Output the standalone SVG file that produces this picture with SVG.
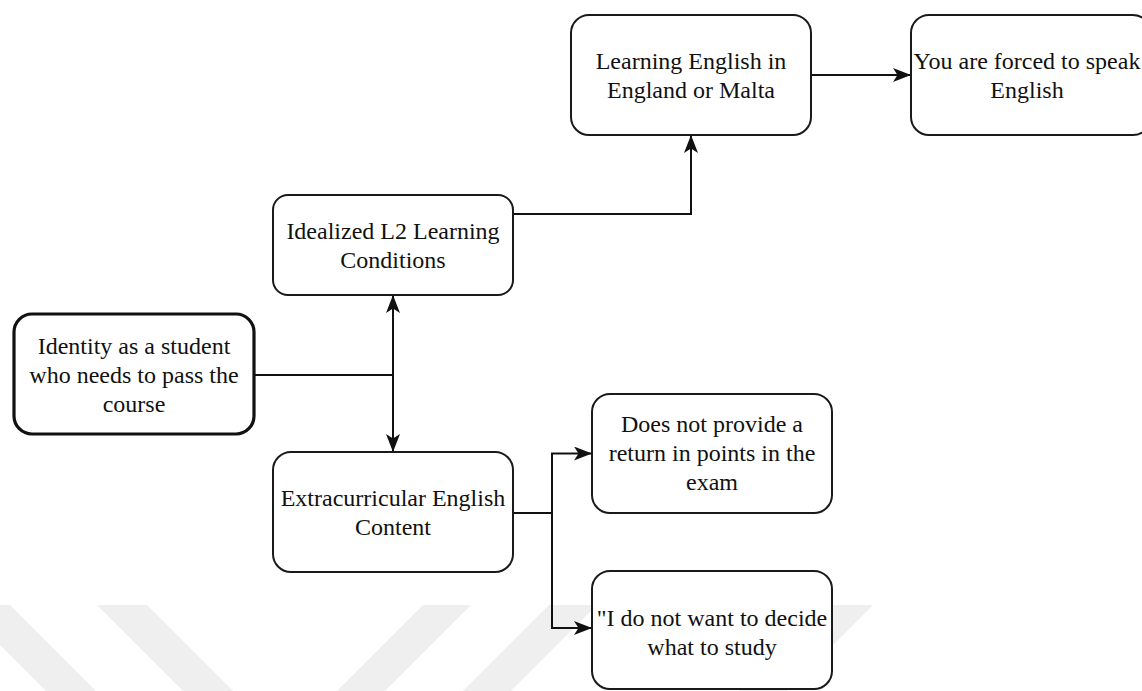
<svg xmlns="http://www.w3.org/2000/svg" width="1142" height="691" viewBox="0 0 1142 691">
  <defs>
    <style>
      .box { fill: #ffffff; stroke: #1a1a1a; stroke-width: 2; }
      .box-strong { fill: #ffffff; stroke: #111111; stroke-width: 3.2; }
      .edge { fill: none; stroke: #111111; stroke-width: 2; }
      .label { font-family: "Liberation Serif", "Times New Roman", serif; font-size: 24px; fill: #111111; text-anchor: middle; }
      .band { fill: #efefef; }
    </style>
    <marker id="arrow" markerUnits="userSpaceOnUse" markerWidth="18" markerHeight="14" viewBox="0 0 18 14" refX="17" refY="7" orient="auto-start-reverse">
      <path d="M0,0 L18,7 L0,14 L4.5,7 Z" fill="#111111"/>
    </marker>
  </defs>

  <rect width="1142" height="691" fill="#ffffff"/>

  <!-- background chevron bands -->
  <g id="bands">
    <polygon class="band" points="-40,605 10,605 96,691 46,691"/>
    <polygon class="band" points="97,605 147,605 233,691 183,691"/>
    <polygon class="band" points="423,605 471,605 385,691 337,691"/>
    <polygon class="band" points="549,605 597,605 511,691 463,691"/>
    <polygon class="band" points="825,605 873,605 787,691 739,691"/>
  </g>

  <!-- connectors -->
  <g id="connectors">
    <path class="edge" d="M787,75 L910,75" marker-end="url(#arrow)"/>
    <path class="edge" d="M513,214 L691,214 L691,136" marker-end="url(#arrow)"/>
    <path class="edge" d="M254,375 L393,375"/>
    <path class="edge" d="M393,296 L393,451" marker-start="url(#arrow)" marker-end="url(#arrow)"/>
    <path class="edge" d="M513,513 L552,513 L552,453.5 L591,453.5" marker-end="url(#arrow)"/>
    <path class="edge" d="M552,513 L552,628 L591,628" marker-end="url(#arrow)"/>
  </g>

  <g id="node-learning">
    <rect class="box" x="571" y="15" width="240" height="120" rx="18"/>
    <text class="label" x="691" y="68.5">Learning English in</text>
    <text class="label" x="691" y="97.5">England or Malta</text>
  </g>

  <g id="node-forced">
    <rect class="box" x="911" y="15" width="240" height="120" rx="18"/>
    <text class="label" x="1027" y="68.5">You are forced to speak</text>
    <text class="label" x="1027" y="97.5">English</text>
  </g>

  <g id="node-idealized">
    <rect class="box" x="273" y="195" width="240" height="100" rx="15"/>
    <text class="label" x="393" y="238.5">Idealized L2 Learning</text>
    <text class="label" x="393" y="267.5">Conditions</text>
  </g>

  <g id="node-identity">
    <rect class="box-strong" x="14" y="314" width="240" height="120" rx="18"/>
    <text class="label" x="134" y="353.5">Identity as a student</text>
    <text class="label" x="134" y="382.5">who needs to pass the</text>
    <text class="label" x="134" y="411.5">course</text>
  </g>

  <g id="node-extracurricular">
    <rect class="box" x="273" y="452" width="240" height="120" rx="18"/>
    <text class="label" x="393" y="505.5">Extracurricular English</text>
    <text class="label" x="393" y="534.5">Content</text>
  </g>

  <g id="node-no-return">
    <rect class="box" x="592" y="394" width="240" height="119" rx="18"/>
    <text class="label" x="712" y="432">Does not provide a</text>
    <text class="label" x="712" y="461">return in points in the</text>
    <text class="label" x="712" y="490">exam</text>
  </g>

  <g id="node-decide">
    <rect class="box" x="592" y="571" width="240" height="118" rx="18"/>
    <text class="label" x="712" y="626">"I do not want to decide</text>
    <text class="label" x="712" y="655">what to study</text>
  </g>
</svg>
